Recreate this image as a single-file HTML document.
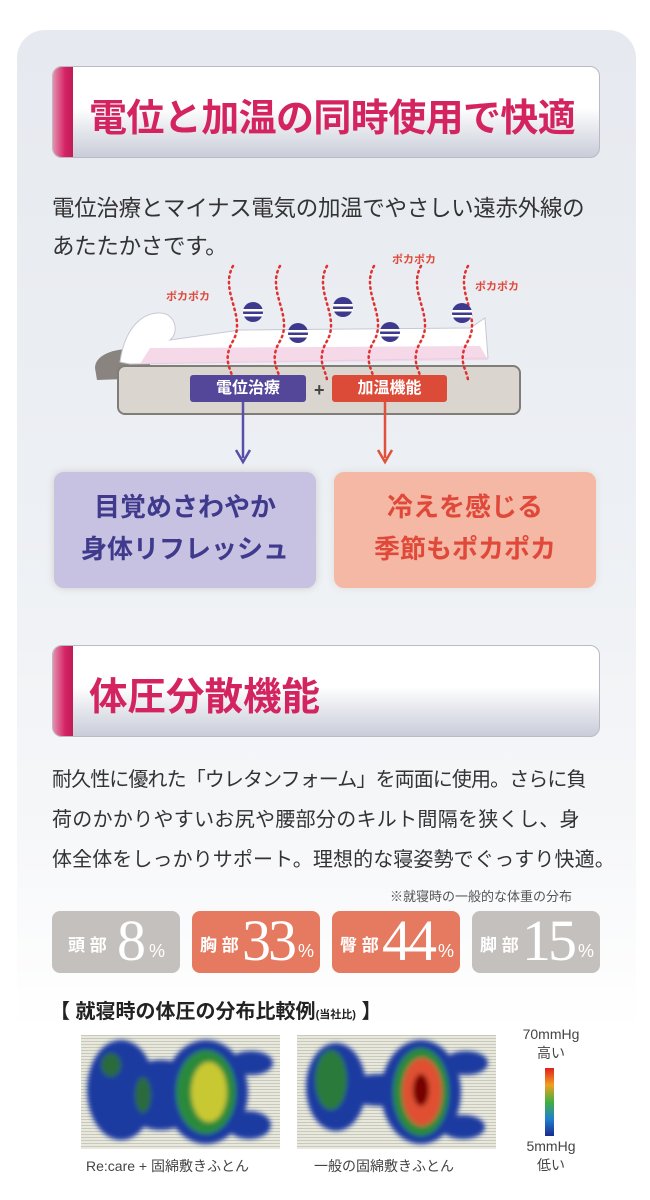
<!DOCTYPE html>
<html><head><meta charset="utf-8"><style>
*{margin:0;padding:0;box-sizing:border-box}
body{width:650px;height:1200px;background:#fff;position:relative;overflow:hidden;font-family:"Liberation Sans","Noto Sans CJK JP",sans-serif;color:#333}
.abs{position:absolute}
.panel{left:17px;top:30px;width:619px;height:1000px;border-radius:28px 28px 0 0;background:linear-gradient(180deg,#e6e9ef 0%,#edf0f4 50%,#f6f7f9 80%,#fff 100%)}
.hdr{border-radius:10px;border:1px solid #b8bac4;background:linear-gradient(180deg,#fff 0%,#fff 45%,#c9ccd9 100%);overflow:hidden}
.hdr .bar{position:absolute;left:0;top:0;bottom:0;width:20px;background:linear-gradient(90deg,#e590ad,#d42466 60%,#c01b55)}
.hdr .t{position:absolute;left:36px;color:#d4245f;font-weight:bold;white-space:nowrap}
.p{font-size:20px;color:#333;white-space:nowrap}
.tag{color:#fff;font-size:16px;text-align:center;line-height:27px;border-radius:3px;font-weight:bold}
.bx{border-radius:10px;text-align:center;font-weight:bold;font-size:26px;line-height:42px;padding-top:14px}
.pc{border-radius:8px;color:#fff;height:62px;width:128px}
.pc .k{position:absolute;top:20px;font-size:17px;font-weight:bold}
.pc .n{position:absolute;top:-4px;font-family:"Liberation Serif",serif;font-size:58px;letter-spacing:-3px}
.pc .u{position:absolute;top:30px;font-size:18px}
</style></head><body>
<div class="abs panel"></div>

<div class="abs hdr" style="left:52px;top:66px;width:548px;height:92px"><div class="bar"></div><div class="t" style="top:20px;font-size:38px;letter-spacing:-0.6px">電位と加温の同時使用で快適</div></div>

<div class="abs p" style="left:52px;top:191px;font-size:22.5px;letter-spacing:-0.3px">電位治療とマイナス電気の加温でやさしい遠赤外線の</div>
<div class="abs p" style="left:52px;top:229px;font-size:22.5px;letter-spacing:-0.3px">あたたかさです。</div>

<svg class="abs" style="left:0;top:250px" width="650" height="230">
 <path d="M95,118 C95,100 130,95 150,102 L150,128 L97,130 Z" fill="#8a8480"/>
 <path d="M120,112 C125,75 145,62 160,63 C175,63 180,82 170,90 L240,80 L470,78 L485,68 L488,108 L130,114 Z" fill="#fff" stroke="#c8c8d4"/>
 <path d="M150,98 L480,96 L488,110 L140,114 Z" fill="#f3cfe2" opacity=".8"/>
 <rect x="118" y="116" width="402" height="48" rx="7" fill="#dad6cf" stroke="#807c78" stroke-width="2"/>
 <g fill="none" stroke="#e03030" stroke-width="2.5" stroke-dasharray="1.5 4" stroke-linecap="round">
  <path d="M233,16 c-14,25 14,50 0,75 c-12,20 0,30 0,40"/>
  <path d="M280,16 c-14,25 14,50 0,75 c-12,20 0,30 0,40"/>
  <path d="M327,16 c-14,25 14,50 0,75 c-12,20 0,30 0,40"/>
  <path d="M374,16 c-14,25 14,50 0,75 c-12,20 0,30 0,40"/>
  <path d="M421,16 c-14,25 14,50 0,75 c-12,20 0,30 0,40"/>
  <path d="M468,16 c-14,25 14,50 0,75 c-12,20 0,30 0,40"/>
 </g>
 <g fill="#3d3a8e"><circle cx="253" cy="62" r="10"/><circle cx="298" cy="83" r="10"/><circle cx="343" cy="57" r="10"/><circle cx="390" cy="82" r="10"/><circle cx="462" cy="63" r="10"/></g>
 <g fill="#fff"><rect x="243" y="59" width="20" height="2.5"/><rect x="243" y="64" width="20" height="2.5"/><rect x="288" y="80" width="20" height="2.5"/><rect x="288" y="85" width="20" height="2.5"/><rect x="333" y="54" width="20" height="2.5"/><rect x="333" y="59" width="20" height="2.5"/><rect x="380" y="79" width="20" height="2.5"/><rect x="380" y="84" width="20" height="2.5"/><rect x="452" y="60" width="20" height="2.5"/><rect x="452" y="65" width="20" height="2.5"/></g>
 <g fill="#e04a3a" font-size="11" font-weight="bold" font-family="Liberation Sans,Noto Sans CJK JP,sans-serif"><text x="166" y="50">ポカポカ</text><text x="392" y="13">ポカポカ</text><text x="475" y="40">ポカポカ</text></g>
 <line x1="243" y1="152" x2="243" y2="208" stroke="#5a4fa8" stroke-width="2.5"/>
 <path d="M236,200 L243,212 L250,200" fill="none" stroke="#5a4fa8" stroke-width="2.5"/>
 <line x1="385" y1="152" x2="385" y2="208" stroke="#e0503a" stroke-width="2.5"/>
 <path d="M378,200 L385,212 L392,200" fill="none" stroke="#e0503a" stroke-width="2.5"/>
 <text x="314" y="146" font-size="18" font-weight="bold" fill="#444">+</text>
</svg>
<div class="abs tag" style="left:190px;top:375px;width:116px;background:#54479a">電位治療</div>
<div class="abs tag" style="left:332px;top:375px;width:115px;background:#dc4a38">加温機能</div>

<div class="abs bx" style="left:54px;top:472px;width:262px;height:116px;background:#c8c2e2;color:#3f3a8c;box-shadow:0 0 10px 6px #c8c2e2 inset,0 0 8px #ccc">目覚めさわやか<br>身体リフレッシュ</div>
<div class="abs bx" style="left:334px;top:472px;width:262px;height:116px;background:#f4b8a4;color:#e0493a;box-shadow:0 0 8px #ddd">冷えを感じる<br>季節もポカポカ</div>

<div class="abs hdr" style="left:52px;top:645px;width:548px;height:92px"><div class="bar"></div><div class="t" style="top:20px;font-size:38.5px">体圧分散機能</div></div>

<div class="abs p" style="left:52px;top:763px;letter-spacing:-0.9px">耐久性に優れた「ウレタンフォーム」を両面に使用。さらに負</div>
<div class="abs p" style="left:52px;top:803px;letter-spacing:0.3px">荷のかかりやすいお尻や腰部分のキルト間隔を狭くし、身</div>
<div class="abs p" style="left:52px;top:843px;letter-spacing:0.1px">体全体をしっかりサポート。理想的な寝姿勢でぐっすり快適。</div>
<div class="abs" style="left:390px;top:886px;font-size:13px;color:#555">※就寝時の一般的な体重の分布</div>

<div class="abs pc" style="left:52px;top:911px;background:#c4c0bd"><span class="k" style="left:16px">頭 部</span><span class="n" style="left:65px">8</span><span class="u" style="left:97px">%</span></div>
<div class="abs pc" style="left:192px;top:911px;background:#e57a60"><span class="k" style="left:8px">胸 部</span><span class="n" style="left:50px">33</span><span class="u" style="left:106px">%</span></div>
<div class="abs pc" style="left:332px;top:911px;background:#e57a60"><span class="k" style="left:8px">臀 部</span><span class="n" style="left:50px">44</span><span class="u" style="left:106px">%</span></div>
<div class="abs pc" style="left:472px;top:911px;background:#c4c0bd"><span class="k" style="left:8px">脚 部</span><span class="n" style="left:50px">15</span><span class="u" style="left:106px">%</span></div>

<div class="abs" style="left:50px;top:995px;font-size:20px;font-weight:bold;color:#222;white-space:nowrap">【 就寝時の体圧の分布比較例<span style="font-size:11px">(当社比)</span> 】</div>

<svg class="abs" style="left:81px;top:1035px" width="420" height="116">
 <defs><pattern id="g" width="3" height="3" patternUnits="userSpaceOnUse"><rect width="3" height="3" fill="#e8e8dc"/><rect width="3" height="1" fill="#c8c8bc"/></pattern>
 <filter id="b"><feGaussianBlur stdDeviation="2.5"/></filter></defs>
 <rect x="0" y="0" width="199" height="114" fill="url(#g)"/>
 <rect x="216" y="0" width="199" height="114" fill="url(#g)"/>
 <g filter="url(#b)">
  <ellipse cx="40" cy="55" rx="34" ry="50" fill="#1a3aa0"/><ellipse cx="80" cy="60" rx="40" ry="35" fill="#1a3aa0"/>
  <ellipse cx="125" cy="57" rx="42" ry="52" fill="#1a3aa0"/><ellipse cx="170" cy="28" rx="22" ry="12" fill="#1a3aa0"/><ellipse cx="168" cy="90" rx="22" ry="14" fill="#1a3aa0"/>
  <ellipse cx="125" cy="57" rx="30" ry="42" fill="#2a8a3a"/><ellipse cx="128" cy="57" rx="18" ry="30" fill="#c8c830"/>
  <ellipse cx="30" cy="30" rx="10" ry="12" fill="#2a6a3a"/><ellipse cx="62" cy="60" rx="8" ry="18" fill="#2a6a3a"/>
  <ellipse cx="255" cy="52" rx="30" ry="44" fill="#1a3aa0"/><ellipse cx="300" cy="55" rx="40" ry="16" fill="#1a3aa0"/>
  <ellipse cx="340" cy="57" rx="40" ry="52" fill="#1a3aa0"/><ellipse cx="385" cy="28" rx="22" ry="12" fill="#1a3aa0"/><ellipse cx="382" cy="92" rx="22" ry="12" fill="#1a3aa0"/>
  <ellipse cx="250" cy="45" rx="16" ry="30" fill="#2a7a3a"/>
  <ellipse cx="340" cy="57" rx="28" ry="44" fill="#2a8a3a"/><ellipse cx="341" cy="57" rx="20" ry="34" fill="#e05030"/><ellipse cx="340" cy="55" rx="8" ry="16" fill="#700"/>
 </g>
</svg>
<div class="abs" style="left:545px;top:1068px;width:9px;height:68px;background:linear-gradient(180deg,#e02020,#f0a020,#40b040,#2080d0,#1a2a90)"></div>
<div class="abs" style="left:518px;top:1025px;font-size:14px;color:#444;text-align:center;width:66px;line-height:19px">70mmHg<br>高い</div>
<div class="abs" style="left:518px;top:1137px;font-size:14px;color:#444;text-align:center;width:66px;line-height:19px">5mmHg<br>低い</div>
<div class="abs" style="left:86px;top:1156px;font-size:14px;color:#444">Re:care + 固綿敷きふとん</div>
<div class="abs" style="left:314px;top:1156px;font-size:14px;color:#444">一般の固綿敷きふとん</div>
</body></html>
